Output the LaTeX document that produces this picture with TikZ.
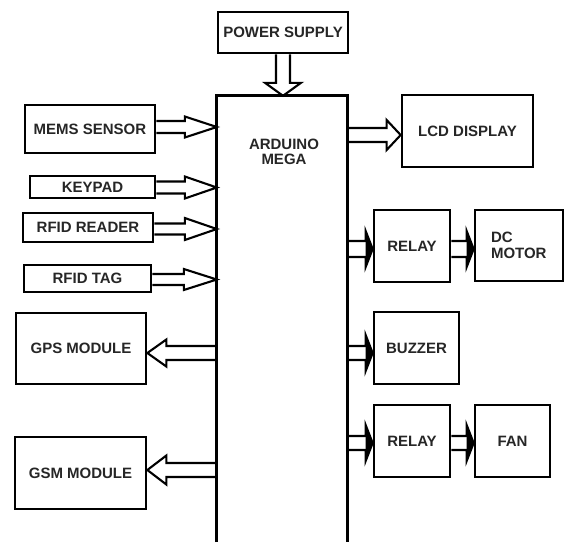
\documentclass[tikz,border=0pt]{standalone}
\usepackage{fontspec}
\setmainfont{Liberation Sans}
\usetikzlibrary{calc}
\newcommand\barrow[6][]{%
  \draw[arr,#1] ($(#2)!#4!90:(#3)$)
    -- ($(#3)!#6!(#2)+(#2)!#4!90:(#3)-(#2)$)
    -- ($(#3)!#6!(#2)+(#2)!#5!90:(#3)-(#2)$)
    -- (#3)
    -- ($(#3)!#6!(#2)+(#2)!#5!-90:(#3)-(#2)$)
    -- ($(#3)!#6!(#2)+(#2)!#4!-90:(#3)-(#2)$)
    -- ($(#2)!#4!-90:(#3)$);}
\newcommand\sarrow[5]{%
  \barrow{#1}{#2}{#3}{#4}{#5}%
  \fill[black] ($(#2)!#5!(#1)+(#1)!#4!90:(#2)-(#1)$) -- (#2)
    -- ($(#2)!#5!(#1)+(#1)!#4!-90:(#2)-(#1)$) -- cycle;}
\tikzset{
  box/.style={draw=black, line width=2.7pt, rectangle, inner sep=0pt,
    font=\fontsize{15}{17}\selectfont\bfseries, text=black!85},
  lbl/.style={inner sep=0pt, align=center,
    font=\fontsize{15}{17}\selectfont\bfseries, text=black!85},
  arr/.style={draw=black, line width=2.1pt, line join=miter},
  sides/.style={draw=black, line width=2.7pt}
}
\begin{document}
\begin{tikzpicture}[x=1pt,y=-1pt]
\useasboundingbox (0,0) rectangle (565,542);
% blocks
\node[box, minimum width=130pt, minimum height=41pt] (ps) at (283,32.5) {POWER SUPPLY};
\node[inner sep=0pt, minimum width=130pt, minimum height=446pt] (ard) at (282,319) {};
\draw[sides] (ard.south west) -- (ard.north west) -- (ard.north east) -- (ard.south east);
\node[lbl] (ardtxt) at (284,151.5) {ARDUINO\\[-2pt]MEGA};
\node[box, minimum width=130pt, minimum height=48pt] (mems) at (90,129) {MEMS SENSOR};
\node[box, minimum width=125pt, minimum height=22pt] (key) at (92.5,187) {KEYPAD};
\node[box, minimum width=130pt, minimum height=29pt] (rr) at (88,227.5) {RFID READER};
\node[box, minimum width=127pt, minimum height=27pt] (rt) at (87.5,278.5) {RFID TAG};
\node[box, minimum width=130pt, minimum height=71pt] (gps) at (81,348.5) {GPS MODULE};
\node[box, minimum width=131pt, minimum height=72pt] (gsm) at (80.5,473) {GSM MODULE};
\node[box, minimum width=131pt, minimum height=72pt] (lcd) at (467.5,131) {LCD DISPLAY};
\node[box, minimum width=76pt, minimum height=72pt] (r1) at (412,246) {RELAY};
\node[box, minimum height=71pt, text width=56pt, inner xsep=16pt, align=left] (dc) at (519,245.5) {DC\\[-1pt]MOTOR};
\node[box, minimum width=85pt, minimum height=72pt] (bz) at (416.5,348) {BUZZER};
\node[box, minimum width=76pt, minimum height=72pt] (r2) at (412,441) {RELAY};
\node[box, minimum width=75pt, minimum height=72pt] (fan) at (512.5,441) {FAN};
% connector end points
\coordinate (c1a) at (ps.south);
\coordinate (c1b) at (ps.south |- ard.north);
\coordinate (c2a) at (mems.east |- 0,127);
\coordinate (c2b) at (ard.west |- 0,127);
\coordinate (c3a) at (key.east |- 0,187.5);
\coordinate (c3b) at (ard.west |- 0,187.5);
\coordinate (c4a) at (rr.east |- 0,229);
\coordinate (c4b) at (ard.west |- 0,229);
\coordinate (c5a) at (rt.east |- 0,279.5);
\coordinate (c5b) at (ard.west |- 0,279.5);
\coordinate (c6a) at (ard.west |- 0,353);
\coordinate (c6b) at (gps.east |- 0,353);
\coordinate (c7a) at (ard.west |- 0,470);
\coordinate (c7b) at (gsm.east |- 0,470);
\coordinate (c8a) at (ard.east |- 0,135);
\coordinate (c8b) at (lcd.west |- 0,135);
\coordinate (c9a) at (ard.east |- 0,249);
\coordinate (c9b) at (r1.west |- 0,249);
\coordinate (c10a) at (r1.east |- 0,249);
\coordinate (c10b) at (dc.west |- 0,249);
\coordinate (c11a) at (ard.east |- 0,353);
\coordinate (c11b) at (bz.west |- 0,353);
\coordinate (c12a) at (ard.east |- 0,443);
\coordinate (c12b) at (r2.west |- 0,443);
\coordinate (c13a) at (r2.east |- 0,443);
\coordinate (c13b) at (fan.west |- 0,443);
% connectors
\barrow{c1a}{c1b}{7pt}{18pt}{13pt}
\barrow{c2a}{c2b}{6pt}{10.5pt}{32pt}
\barrow{c3a}{c3b}{6pt}{11pt}{32pt}
\barrow{c4a}{c4b}{5.5pt}{11pt}{32pt}
\barrow{c5a}{c5b}{5.5pt}{10.5pt}{33pt}
\barrow{c6a}{c6b}{7pt}{13.5pt}{19pt}
\barrow{c7a}{c7b}{7pt}{14.5pt}{19pt}
\barrow{c8a}{c8b}{7pt}{15pt}{14pt}
\sarrow{c9a}{c9b}{8pt}{18pt}{7pt}
\sarrow{c10a}{c10b}{8pt}{18pt}{7pt}
\sarrow{c11a}{c11b}{7pt}{18pt}{7pt}
\sarrow{c12a}{c12b}{7pt}{18pt}{7pt}
\sarrow{c13a}{c13b}{7pt}{18pt}{7pt}
\end{tikzpicture}
\end{document}
